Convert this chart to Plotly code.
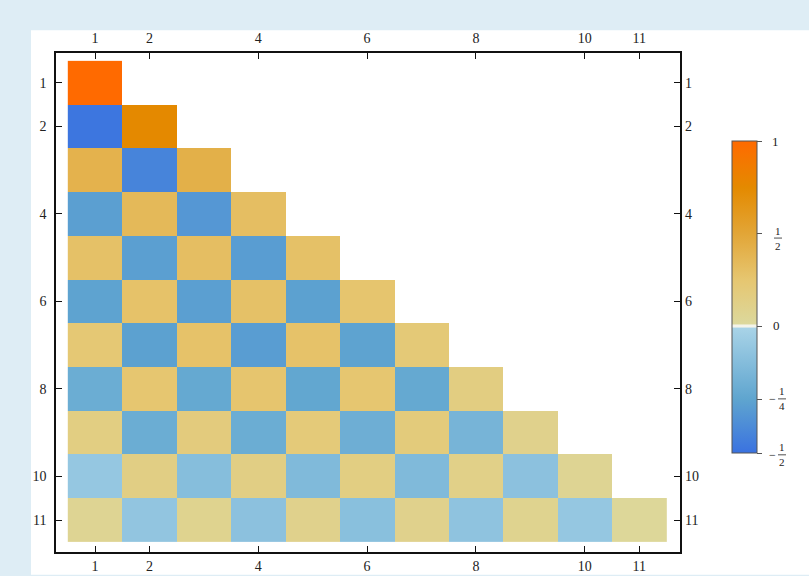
import plotly.graph_objects as go

# ---------------- data ----------------
labels = [1, 2, 3, 4, 5, 6, 7, 8, 9, 10, 11]
tick_labels = [1, 2, 4, 6, 8, 10, 11]

row1 = [1.00]
row2 = [-0.48, 0.75]
row3 = [0.40, -0.41, 0.42]
row4 = [-0.28, 0.35, -0.32, 0.31]
row5 = [0.29, -0.28, 0.31, -0.29, 0.29]
row6 = [-0.26, 0.28, -0.28, 0.29, -0.27, 0.26]
row7 = [0.23, -0.27, 0.28, -0.29, 0.28, -0.26, 0.21]
row8 = [-0.21, 0.25, -0.23, 0.26, -0.24, 0.25, -0.23, 0.16]
row9 = [0.15, -0.21, 0.18, -0.21, 0.20, -0.20, 0.19, -0.17, 0.10]
row10 = [-0.07, 0.14, -0.12, 0.14, -0.14, 0.15, -0.14, 0.12, -0.10, 0.06]
row11 = [0.06, -0.08, 0.08, -0.10, 0.10, -0.11, 0.10, -0.09, 0.08, -0.07, 0.03]
rows = [row1, row2, row3, row4, row5, row6, row7, row8, row9, row10, row11]

# colour-bar scale (value -> position on bar)
cb_values = [-0.5, -0.25, 0.0, 0.5, 1.0]
cb_pos = [0.0, 0.173, 0.407, 0.705, 1.0]


def scale(v):
    if v is None:
        return None
    for i in range(len(cb_values) - 1):
        a, b = cb_values[i], cb_values[i + 1]
        if v <= b or i == len(cb_values) - 2:
            return cb_pos[i] + (cb_pos[i + 1] - cb_pos[i]) * (v - a) / (b - a)


z_raw = [r + [None] * (11 - len(r)) for r in rows]
z = [[scale(v) for v in r] for r in z_raw]

colorscale = [
    [0.0, "#3a72e0"],
    [0.173, "#5fa5cf"],
    [0.400, "#a8d3e7"],
    [0.404, "#f4f4ea"],
    [0.410, "#f4f4ea"],
    [0.414, "#dcd89c"],
    [0.556, "#e6c670"],
    [0.705, "#e2a536"],
    [0.85, "#e48a00"],
    [1.0, "#ff6a00"],
]

# ---------------- geometry helpers (pixel -> paper) ----------------
W, H = 809, 576
L, R, T, B = 56, 680, 52.7, 552.3


def px(x):
    return (x - L) / (R - L)


def py(y):
    return (B - y) / (B - T)


FONT = "Liberation Serif"
TXT = "#222222"

fig = go.Figure()
fig.add_trace(go.Heatmap(
    x=labels, y=labels, z=z, customdata=z_raw,
    zmin=0, zmax=1, colorscale=colorscale,
    hoverongaps=False,
    hovertemplate="row %{y}, col %{x}: %{customdata}<extra></extra>",
    colorbar=dict(
        x=px(732), xanchor="left", xpad=0,
        y=py((141 + 453) / 2), yanchor="middle", ypad=0,
        len=(453 - 141) / (B - T), lenmode="fraction",
        thickness=25, thicknessmode="pixels",
        outlinewidth=1, outlinecolor="#555",
        ticks="outside", ticklen=5, tickcolor="#555", tickwidth=1,
        tickvals=cb_pos, showticklabels=False,
    ),
))
fig.add_trace(go.Scatter(x=[None], y=[None], xaxis="x2", yaxis="y2",
                         showlegend=False, hoverinfo="skip"))

axis_common = dict(
    tickvals=tick_labels, ticktext=[str(t) for t in tick_labels],
    ticks="inside", ticklen=6, tickwidth=1.2, tickcolor="#111",
    showgrid=False, zeroline=False,
    tickfont=dict(family=FONT, size=14, color=TXT),
)
xr = [0.283, 11.75]
yr = [11.73, 0.32]

fig.update_layout(
    width=W, height=H,
    margin=dict(l=L, r=W - R, t=T, b=H - B, autoexpand=False),
    paper_bgcolor="#deedf5",
    plot_bgcolor="white",
    font=dict(family=FONT, size=14, color=TXT),
    showlegend=False,
    xaxis=dict(range=xr, showline=True, mirror=True, linecolor="#111",
               linewidth=1.5, ticklabelstandoff=0, **axis_common),
    yaxis=dict(range=yr, showline=True, mirror=True, linecolor="#111",
               linewidth=1.5, ticklabelstandoff=5, **axis_common),
    xaxis2=dict(range=xr, overlaying="x", side="top", anchor="y",
                showline=False, ticklabelstandoff=6, **axis_common),
    yaxis2=dict(range=yr, overlaying="y", side="right", anchor="x",
                showline=False, ticklabelstandoff=4, **axis_common),
)

# background card + colour-bar labels (stacked fractions)
shp = [
    dict(type="rect", xref="paper", yref="paper", layer="below",
         x0=px(31), x1=px(815), y0=py(575), y1=py(30),
         fillcolor="white", line=dict(width=0)),
]
ann = []


def label(xp, yp, text, size=13):
    ann.append(dict(x=px(xp), y=py(yp), xref="paper", yref="paper",
                    text=text, showarrow=False,
                    font=dict(family=FONT, size=size, color=TXT),
                    xanchor="center", yanchor="middle"))


def fraction(xc, yc, num, den, minus=False):
    label(xc, yc - 7.5, num, 11)
    label(xc, yc + 7.5, den, 11)
    shp.append(dict(type="line", xref="paper", yref="paper",
                    x0=px(xc - 4), x1=px(xc + 4), y0=py(yc), y1=py(yc),
                    line=dict(color=TXT, width=0.8)))
    if minus:
        label(xc - 10, yc, "−", 12)


label(776, 141, "1")
fraction(778, 238, "1", "2")
label(777, 326, "0")
fraction(782, 399, "1", "4", minus=True)
fraction(782, 455, "1", "2", minus=True)

fig.update_layout(annotations=ann, shapes=shp)

fig.write_html("out.html",
               config={"displayModeBar": False},
               post_script="document.body.style.margin='0px';"
                           "document.body.style.overflow='hidden';")
